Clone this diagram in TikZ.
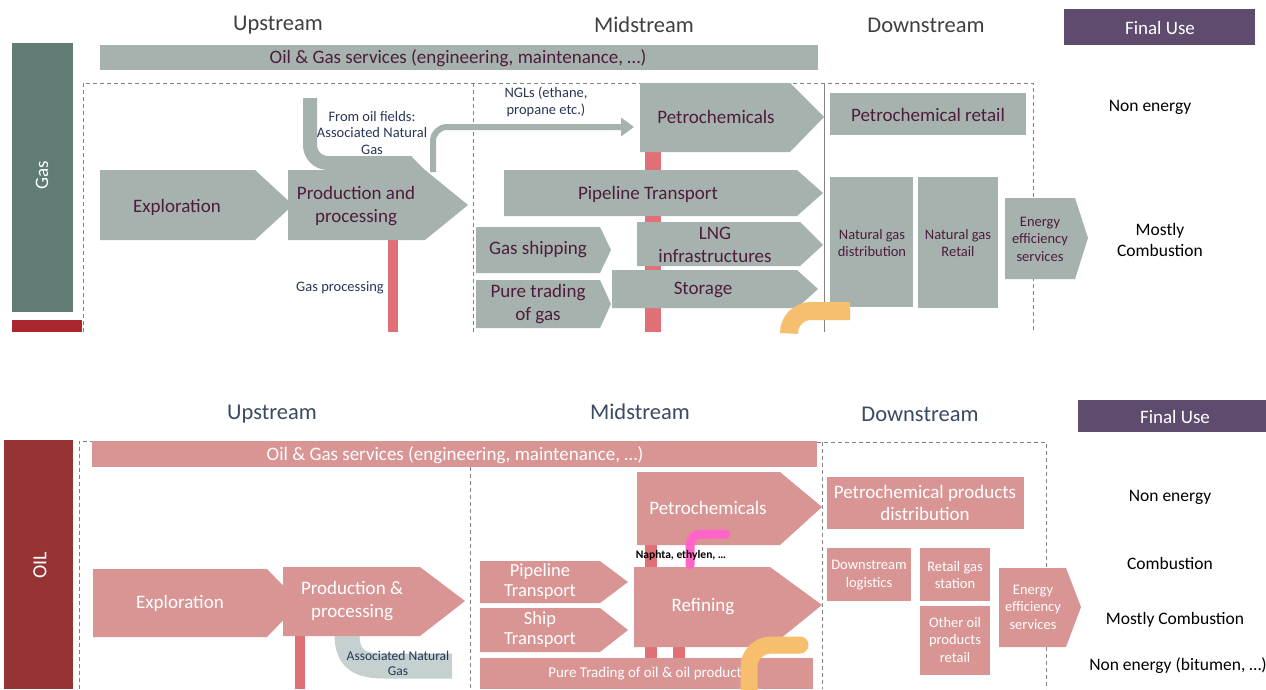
\documentclass[tikz,border=0pt]{standalone}
\usepackage{fontspec}
\setmainfont{Carlito}
\usetikzlibrary{arrows.meta}
\definecolor{gasbox}{RGB}{166,178,174}
\definecolor{gasbar}{RGB}{96,124,116}
\definecolor{gastext}{RGB}{78,28,60}
\definecolor{navy}{RGB}{40,55,85}
\definecolor{pinkbar}{RGB}{224,112,118}
\definecolor{oilbox}{RGB}{217,149,148}
\definecolor{oilbar}{RGB}{150,52,52}
\definecolor{redbar}{RGB}{170,40,45}
\definecolor{fupurple}{RGB}{94,75,110}
\definecolor{orangec}{RGB}{247,190,110}
\definecolor{magc}{RGB}{255,100,200}
\definecolor{assocgrey}{RGB}{197,208,208}
\definecolor{headgray}{RGB}{64,64,64}
\definecolor{headblue}{RGB}{59,74,99}
\definecolor{framegray}{RGB}{130,130,130}
\tikzset{
  lbl/.style={inner sep=0pt, align=center},
  gt/.style={lbl, text=gastext, font=\fontsize{19}{23}\selectfont},
  gs/.style={lbl, text=gastext, font=\fontsize{14.5}{17.5}\selectfont},
  ns/.style={lbl, text=navy, font=\fontsize{14.5}{16.5}\selectfont},
  ot/.style={lbl, text=white, font=\fontsize{19}{22.5}\selectfont},
  os/.style={lbl, text=white, font=\fontsize{14.5}{17.5}\selectfont},
  hdg/.style={lbl, text=headgray, font=\fontsize{22.5}{25}\selectfont},
  hdo/.style={lbl, text=headblue, font=\fontsize{22.5}{25}\selectfont},
  fut/.style={lbl, text=white, font=\fontsize{19}{22}\selectfont},
  fuse/.style={lbl, text=black, font=\fontsize{17.5}{21}\selectfont},
  frame/.style={draw=framegray, line width=1pt, dash pattern=on 4pt off 3pt},
  pinkline/.style={draw=pinkbar, line width=10pt},
}
\begin{document}
\begin{tikzpicture}[x=1pt,y=-1pt]
\fill[white] (0,0) rectangle (1266,689);
\useasboundingbox (0,0) rectangle (1266,689);

%================= GAS =================
\node[hdg] (hupG) at (278,25) {Upstream};
\node[hdg] (hmidG) at (644,25) {Midstream};
\node[hdg] (hdownG) at (926,25) {Downstream};
\fill[fupurple] (1064,9) rectangle (1255,45);
\node[fut] (fuG) at (1160,28) {Final Use};

\fill[gasbar] (12,43) rectangle (73,312);
\node[lbl, text=white, font=\fontsize{19}{20}\selectfont, rotate=90] (gasL) at (42,175) {Gas};
\fill[redbar] (12,320) rectangle (82,332);

\fill[gasbox] (100,45) rectangle (818,70);
\node[gt] (servG) at (458,58) {Oil \& Gas services (engineering, maintenance, …)};

% frame
\draw[frame] (83,332) -- (83,83) -- (1033,83) -- (1033,332);
\draw[frame] (473,83) -- (473,332);
\draw[draw=framegray, line width=0.8pt] (824,83) -- (824,332);

% pink bars
\coordinate (gpb0) at (393,240); \coordinate (gpb1) at (393,332);
\draw[pinkline] (gpb0) -- (gpb1);
\coordinate (gmb0) at (653,150); \coordinate (gmb1) at (653,332);
\draw[pinkline, line width=16pt] (gmb0) -- (gmb1);

% upstream
\fill[gasbox] (100,170) -- (255,170) -- (293,205) -- (255,240) -- (100,240) -- cycle;
\node[gt] (gexpl) at (177,207) {Exploration};
\coordinate (gp0) at (310,98); \coordinate (gp1) at (412,163);
\draw[gasbox, line width=14pt, rounded corners=18pt] (gp0) |- (gp1);
\fill[gasbox] (411,156) -- (425,170) -- (411,170) -- cycle;
\fill[gasbox] (288,170) -- (425,170) -- (468,205) -- (425,240) -- (288,240) -- cycle;
\node[gt] (gprod) at (356,206) {Production and\\processing};
\node[ns] (fromoil) at (372,133) {From oil fields:\\Associated Natural\\Gas};
\node[ns] (gproc) at (340,288) {Gas processing};
\coordinate (ngl0) at (433,172); \coordinate (ngl1) at (634,127);
\draw[gasbox, line width=6pt, rounded corners=14pt, -{Triangle[length=13pt,width=18pt]}] (ngl0) |- (ngl1);
\node[ns] (ngl) at (546,102) {NGLs (ethane,\\propane etc.)};

% midstream
\fill[gasbox] (640,83) -- (790,83) -- (824,117) -- (790,152) -- (640,152) -- cycle;
\node[gt] (gpetro) at (716,117) {Petrochemicals};
\fill[gasbox] (504,170) -- (797,170) -- (823,193) -- (797,216) -- (504,216) -- cycle;
\node[gt] (gpipe) at (648,194) {Pipeline Transport};
\fill[gasbox] (476,227) -- (600,227) -- (611,250) -- (600,273) -- (476,273) -- cycle;
\node[gt] (gship) at (538,250) {Gas shipping};
\fill[gasbox] (476,280) -- (600,280) -- (611,304) -- (600,328) -- (476,328) -- cycle;
\node[gt] (gtrade) at (538,304) {Pure trading\\of gas};
\fill[gasbox] (637,222) -- (800,222) -- (823,245) -- (800,266) -- (637,266) -- cycle;
\node[gt] (glng) at (715,245) {LNG\\infrastructures};
\fill[gasbox] (612,270) -- (797,270) -- (818,289) -- (797,308) -- (612,308) -- cycle;
\node[gt] (gstor) at (703,290) {Storage};

% downstream
\fill[gasbox] (830,93) rectangle (1026,135);
\node[gt] (gpretail) at (928,115) {Petrochemical retail};
\fill[gasbox] (830,177) rectangle (913,307);
\node[gs] (gdist) at (872,243) {Natural gas\\distribution};
\fill[gasbox] (918,177) rectangle (998,308);
\node[gs] (gretail) at (958,243) {Natural gas\\Retail};
\fill[gasbox] (1005,198) -- (1075,198) -- (1088,238) -- (1075,279) -- (1005,279) -- cycle;
\node[gs] (geff) at (1040,239) {Energy\\efficiency\\services};

\coordinate (go0) at (789,332); \coordinate (go1) at (850,311);
\draw[orangec, line width=18pt, rounded corners=22pt] (go0) |- (go1);

\node[fuse] (gnon) at (1150,107) {Non energy};
\node[fuse] (gcomb) at (1160,240) {Mostly\\Combustion};

%================= OIL =================
\node[hdo] (hupO) at (272,414) {Upstream};
\node[hdo] (hmidO) at (640,412) {Midstream};
\node[hdo] (hdownO) at (920,414) {Downstream};
\fill[fupurple] (1078,400) rectangle (1266,432);
\node[fut] (fuO) at (1175,417) {Final Use};

\fill[oilbar] (4,440) rectangle (73,689);
\node[lbl, text=white, font=\fontsize{20}{21}\selectfont, rotate=90] (oilL) at (40,565) {OIL};

\draw[frame] (79,689) -- (79,441) -- (92,441);
\draw[frame] (817,442) -- (1046,442) -- (1046,689);
\draw[frame] (470,467) -- (470,689);
\draw[frame] (822,442) -- (822,689);

\fill[oilbox] (92,441) rectangle (817,467);
\node[ot] (servO) at (455,455) {Oil \& Gas services (engineering, maintenance, …)};

% bars
\coordinate (opb0) at (300,636); \coordinate (opb1) at (300,689);
\draw[pinkline] (opb0) -- (opb1);
\coordinate (omb0) at (651,545); \coordinate (omb1) at (651,658);
\draw[pinkline, line width=12pt] (omb0) -- (omb1);
\coordinate (omc0) at (679,646); \coordinate (omc1) at (679,658);
\draw[pinkline, line width=12pt] (omc0) -- (omc1);

% upstream
\coordinate (oa0) at (347,634); \coordinate (oa1) at (452,666);
\draw[assocgrey, line width=25pt] (oa0) .. controls (347,660) and (360,666) .. (385,666) -- (oa1);
\fill[oilbox] (93,569) -- (267,569) -- (300,603) -- (267,637) -- (93,637) -- cycle;
\node[ot] (oexpl) at (180,603) {Exploration};
\fill[oilbox] (283,567) -- (420,567) -- (465,601) -- (420,636) -- (283,636) -- cycle;
\node[ot] (oprod) at (352,601) {Production \&\\processing};
\node[ns, font=\fontsize{13.5}{15}\selectfont] (oassoc) at (398,663) {Associated Natural\\Gas};

% midstream
\fill[oilbox] (480,561) -- (600,561) -- (628,582) -- (600,603) -- (480,603) -- cycle;
\node[ot, font=\fontsize{18.5}{20}\selectfont] (opipe) at (540,582) {Pipeline\\Transport};
\fill[oilbox] (480,608) -- (600,608) -- (628,630) -- (600,652) -- (480,652) -- cycle;
\node[ot, font=\fontsize{18.5}{20}\selectfont] (oship) at (540,630) {Ship\\Transport};
\fill[oilbox] (480,658) rectangle (813,689);
\node[os, font=\fontsize{15}{16}\selectfont] (otrade) at (648,674) {Pure Trading of oil \& oil products};
\fill[oilbox] (637,472) -- (780,472) -- (822,507) -- (780,545) -- (637,545) -- cycle;
\node[ot] (opetro) at (708,508) {Petrochemicals};
\fill[oilbox] (634,567) -- (770,567) -- (822,605) -- (770,647) -- (634,647) -- cycle;
\node[ot] (orefin) at (703,607) {Refining};
\coordinate (om0) at (690,565); \coordinate (om1) at (726,534);
\draw[magc, line width=9pt, rounded corners=11pt, line cap=round] (om0) |- (om1);
\node[lbl, font=\fontsize{11.5}{13}\selectfont\bfseries, text=black] (naphta) at (681,555) {Naphta, ethylen, …};
\coordinate (oo0) at (749,689); \coordinate (oo1) at (800,645);
\draw[orangec, line width=17pt, rounded corners=22pt, line cap=round] (oo0) |- (oo1);

% downstream
\fill[oilbox] (827,477) rectangle (1024,529);
\node[ot] (opdist) at (925,503) {Petrochemical products\\distribution};
\fill[oilbox] (827,548) rectangle (911,601);
\node[os] (olog) at (869,575) {Downstream\\logistics};
\fill[oilbox] (920,548) rectangle (990,601);
\node[os] (oretail) at (955,575) {Retail gas\\station};
\fill[oilbox] (920,606) rectangle (990,675);
\node[os] (oother) at (955,640) {Other oil\\products\\retail};
\fill[oilbox] (999,568) -- (1066,568) -- (1081,607) -- (1066,647) -- (999,647) -- cycle;
\node[os] (oeff) at (1033,607) {Energy\\efficiency\\services};

\node[fuse] (onon) at (1170,497) {Non energy};
\node[fuse] (ocomb) at (1170,563) {Combustion};
\node[fuse] (omost) at (1175,620) {Mostly Combustion};
\node[fuse] (obit) at (1178,666) {Non energy (bitumen, …)};
\end{tikzpicture}
\end{document}
